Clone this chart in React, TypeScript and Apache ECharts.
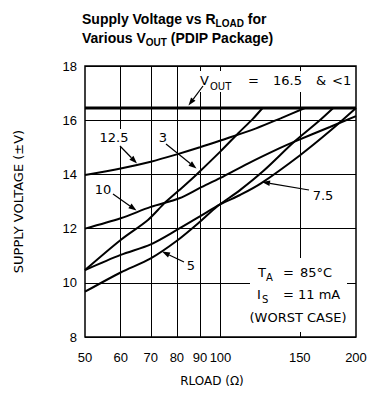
import React, { useEffect, useRef } from "react";
import * as echarts from "echarts";

// ---- data ----
const xTickValues = [50, 60, 70, 80, 90, 100, 150, 200];
const xGridValues = [60, 70, 80, 90, 100, 150];
const yMin = 8;
const yMax = 18;
const yStep = 2;
const vOutLimit = 16.45;

const curve12p5 = [[50, 13.98], [60, 14.22], [70, 14.47], [80, 14.74], [90, 15.0], [100, 15.25], [120, 15.7], [136, 16.07], [154, 16.45]];
const curve3 = [[50, 10.47], [60, 11.58], [69, 12.32], [75, 12.93], [81, 13.42], [88.5, 14.0], [100, 14.85], [109.5, 15.52], [118, 16.05], [124, 16.45]];
const curve10 = [[50, 12.0], [60, 12.38], [70, 12.8], [81, 13.12], [90, 13.5], [100, 13.87], [115, 14.4], [135, 14.96], [146, 15.21], [175, 15.75], [200, 16.15]];
const curve7p5 = [[50, 10.47], [60, 11.03], [70, 11.42], [80, 11.95], [90, 12.45], [100, 12.9], [110.5, 13.24], [123, 13.67], [150, 14.7], [175, 15.6], [200, 16.45]];
const curve5 = [[50, 9.67], [60, 10.38], [70, 10.9], [80, 11.55], [90, 12.25], [98, 12.8], [110.5, 13.42], [125, 14.15], [146, 15.21], [165, 15.95], [178, 16.45]];

const SANS = '"Liberation Sans", Arial, sans-serif';
const DJ = '"DejaVu Sans", sans-serif';

const ctx = typeof document !== "undefined" ? document.createElement("canvas").getContext("2d") : null;
function measure(text: string, font: string) {
  if (!ctx) return text.length * 7;
  ctx.font = font;
  return ctx.measureText(text).width;
}

function txt(x: number, y: number, text: string, font: string, align = "left", extra: any = {}) {
  return {
    type: "text",
    z: 20,
    silent: true,
    style: {
      text,
      x,
      y,
      font,
      fill: "#000",
      align,
      textAlign: align,
      verticalAlign: "middle",
      textVerticalAlign: "middle",
    },
    ...extra,
  };
}

function seq(x: number, y: number, pieces: { t: string; size: number; dy?: number }[], family: string, weight = "normal") {
  const out: any[] = [];
  let cx = x;
  for (const p of pieces) {
    const font = `${weight} ${p.size}px ${family}`;
    out.push(txt(cx, y + (p.dy || 0), p.t, font));
    cx += measure(p.t, font);
  }
  return out;
}

function arrow(x1: number, y1: number, x2: number, y2: number) {
  const a = Math.atan2(y2 - y1, x2 - x1);
  const L = 8;
  const W = 2.8;
  const bx = x2 - L * Math.cos(a);
  const by = y2 - L * Math.sin(a);
  const nx = -Math.sin(a) * W;
  const ny = Math.cos(a) * W;
  return [
    { type: "line", z: 20, silent: true, shape: { x1, y1, x2: bx, y2: by }, style: { stroke: "#000", lineWidth: 1.2 } },
    { type: "polygon", z: 20, silent: true, shape: { points: [[x2, y2], [bx + nx, by + ny], [bx - nx, by - ny]] }, style: { fill: "#000" } },
  ];
}

function whiteBox(x: number, y: number, w: number, h: number) {
  return { type: "rect", z: 15, silent: true, shape: { x, y, width: w, height: h }, style: { fill: "#fff" } };
}

export default function App() {
  const ref = useRef<HTMLDivElement>(null);
  useEffect(() => {
    const chart = echarts.init(ref.current!, null, { renderer: "svg" });
    const curve = (name: string, data: number[][]) => ({
      name,
      type: "line",
      data,
      symbol: "none",
      showSymbol: false,
      smooth: 0.3,
      z: 30,
      silent: true,
      lineStyle: { color: "#000", width: 2 },
    });
    chart.setOption({
      animation: false,
      backgroundColor: "#fff",
      grid: { left: 85, right: 16, top: 66, bottom: 61, show: true, borderColor: "#000", borderWidth: 1.5, backgroundColor: "transparent" },
      xAxis: {
        type: "log",
        logBase: 10,
        min: 50,
        max: 200,
        axisLabel: { show: false },
        axisTick: { show: false },
        axisLine: { show: false },
        splitLine: { show: false },
        minorSplitLine: { show: false },
      },
      yAxis: {
        type: "value",
        min: yMin,
        max: yMax,
        interval: yStep,
        axisLine: { show: false },
        axisTick: { show: false },
        axisLabel: { color: "#000", fontSize: 13, fontFamily: SANS, margin: 8 },
        splitLine: { show: true, lineStyle: { color: "#000", width: 1 } },
        name: "SUPPLY VOLTAGE (±V)",
        nameLocation: "middle",
        nameRotate: 90,
        nameGap: 60,
        nameTextStyle: { color: "#000", fontSize: 13, fontFamily: DJ },
      },
      series: [
        {
          name: "limit",
          type: "line",
          data: [[50, vOutLimit], [200, vOutLimit]],
          symbol: "none",
          z: 5,
          silent: true,
          lineStyle: { color: "#000", width: 3 },
          markLine: {
            silent: true,
            symbol: ["none", "none"],
            label: { show: false },
            lineStyle: { color: "#000", width: 1, type: "solid" },
            data: xGridValues.map((v) => ({ xAxis: v })),
          },
        },
        curve("12.5", curve12p5),
        curve("3", curve3),
        curve("10", curve10),
        curve("7.5", curve7p5),
        curve("5", curve5),
      ],
    });

    const g: any[] = [];
    // x tick labels
    for (const v of xTickValues) {
      const p = chart.convertToPixel({ gridIndex: 0 }, [v, yMin]) as number[];
      g.push(txt(p[0], 357, String(v), `13px ${SANS}`, "center"));
    }
    // x axis title
    g.push(txt(212, 381, "RLOAD (Ω)", `12px ${DJ}`, "center"));

    // title
    const tf = SANS;
    g.push(...seq(82, 19, [{ t: "Supply Voltage vs R", size: 14 }, { t: "LOAD", size: 10, dy: 4 }, { t: " for", size: 14 }], tf, "bold"));
    g.push(...seq(82, 38, [{ t: "Various V", size: 14 }, { t: "OUT", size: 10, dy: 4 }, { t: " (PDIP Package)", size: 14 }], tf, "bold"));

    // V_OUT label
    g.push(whiteBox(196, 71, 154, 21));
    const af = `13px ${DJ}`;
    const sf = `10px ${DJ}`;
    g.push(txt(200, 80, "V", af));
    g.push(txt(210, 86, "OUT", sf));
    g.push(txt(248, 80, "=", af));
    g.push(txt(273, 80, "16.5", af));
    g.push(txt(316, 80, "&", af));
    g.push(txt(332, 80, "<1", af));
    g.push(...arrow(203, 86, 188.5, 105.5));

    // conditions box
    g.push(whiteBox(250, 258, 97, 74));
    g.push(txt(258, 272, "T", af));
    g.push(txt(266, 277, "A", sf));
    g.push(txt(283, 272, "=", af));
    g.push(txt(300, 272, "85°C", af));
    g.push(txt(257, 294, "I", af));
    g.push(txt(262, 299, "S", sf));
    g.push(txt(283, 294, "=", af));
    g.push(txt(298, 294, "11 mA", af));
    g.push(txt(298, 317, "(WORST CASE)", af, "center"));

    // curve labels
    g.push(whiteBox(97, 129, 35, 17));
    g.push(txt(114, 137, "12.5", af, "center"));
    g.push(...arrow(120, 146, 137, 163.5));
    g.push(txt(163, 137, "3", af, "center"));
    g.push(...arrow(166, 144, 196.5, 168.5));
    g.push(txt(103, 189, "10", af, "center"));
    g.push(...arrow(113, 194, 136.5, 210.5));
    g.push(txt(323, 195, "7.5", af, "center"));
    g.push(...arrow(309, 190, 262, 182));
    g.push(txt(191, 265, "5", af, "center"));
    g.push(...arrow(184, 262, 162, 251.5));

    chart.setOption({ graphic: { elements: g } });
    return () => chart.dispose();
  }, []);
  return <div ref={ref} style={{ position: "fixed", left: 0, top: 0, width: 372, height: 398, background: "#fff" }} />;
}
